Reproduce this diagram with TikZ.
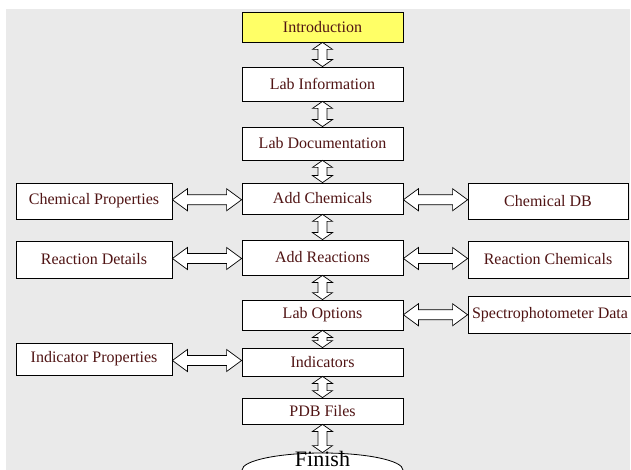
\documentclass[tikz,border=0pt]{standalone}
\usepackage{fontspec}
\setmainfont{Liberation Serif}
\usetikzlibrary{calc,shapes.geometric}
\definecolor{bggray}{RGB}{234,234,234}
\definecolor{introyellow}{RGB}{255,255,102}
\definecolor{txtred}{RGB}{80,20,20}
\newcommand\varr[2]{\path[arrowshape] let \p1=(#1.south), \p2=(#2.north) in
  (\x1,\y1) -- (\x1+10pt,\y1-7pt) -- (\x1+4.5pt,\y1-7pt) -- (\x1+4.5pt,\y2+7pt) -- (\x1+10pt,\y2+7pt)
  -- (\x1,\y2) -- (\x1-10pt,\y2+7pt) -- (\x1-4.5pt,\y2+7pt) -- (\x1-4.5pt,\y1-7pt) -- (\x1-10pt,\y1-7pt) -- cycle;}
\newcommand\harr[2]{\path[arrowshape] let \p1=(#1.east), \p2=(#2.west), \p3=($(#1.east)!0.5!(#2.west)$) in
  (\x1,\y3) -- (\x1+15pt,\y3+11pt) -- (\x1+15pt,\y3+5pt) -- (\x2-15pt,\y3+5pt) -- (\x2-15pt,\y3+11pt)
  -- (\x2,\y3) -- (\x2-15pt,\y3-11pt) -- (\x2-15pt,\y3-5pt) -- (\x1+15pt,\y3-5pt) -- (\x1+15pt,\y3-11pt) -- cycle;}
\begin{document}
\begin{tikzpicture}[x=1pt,y=-1pt,
  box/.style={draw=black,line width=0.8pt,fill=white,inner sep=0pt,font=\fontsize{16}{19}\selectfont,text=txtred},
  mainbox/.style={box,minimum width=161pt},
  sidebox/.style={box,minimum width=156pt},
  arrowshape/.style={draw=black,line width=0.7pt,fill=white,line join=miter}]
\useasboundingbox (0,0) rectangle (631,470);
\fill[bggray] (6,9) rectangle (629.5,470);
% main column
\node[mainbox,fill=introyellow,minimum height=30pt] (intro) at (322.5,27) {Introduction};
\node[mainbox,minimum height=34pt] (info) at (322.5,84) {Lab Information};
\node[mainbox,minimum height=33pt] (doc) at (322.5,143.5) {Lab Documentation};
\node[mainbox,minimum height=31pt] (chem) at (322.5,198.5) {Add Chemicals};
\node[mainbox,minimum height=35pt] (react) at (322.5,257.5) {Add Reactions};
\node[mainbox,minimum height=30pt] (opt) at (322.5,315) {Lab Options};
\node[mainbox,minimum height=28pt] (ind) at (322.5,362) {Indicators};
\node[mainbox,minimum height=26pt] (pdb) at (322.5,411) {PDB Files};
\node[ellipse,draw=black,line width=0.8pt,fill=white,inner sep=0pt,minimum width=161pt,minimum height=34pt] (finish) at (322.5,470) {};
\node[font=\fontsize{22}{26}\selectfont,inner sep=0pt] (finishtxt) at (322.5,459) {Finish};
% left column
\node[sidebox,minimum height=36pt] (chemprop) at (94,201) {Chemical Properties};
\node[sidebox,minimum height=37pt] (reactdet) at (94,259.5) {Reaction Details};
\node[sidebox,minimum height=32pt] (indprop) at (94,359) {Indicator Properties};
% right column
\node[box,minimum width=160pt,minimum height=36pt] (chemdb) at (548,201) {Chemical DB};
\node[box,minimum width=160pt,minimum height=37pt] (reactchem) at (548,259.5) {Reaction Chemicals};
\node[box,minimum width=164pt,minimum height=37pt] (spectro) at (550,314.5) {Spectrophotometer Data};
% vertical arrows
\varr{intro}{info}
\varr{info}{doc}
\varr{doc}{chem}
\varr{chem}{react}
\varr{react}{opt}
\varr{opt}{ind}
\varr{ind}{pdb}
\varr{pdb}{finish}
% horizontal arrows
\harr{chemprop}{chem}
\harr{chem}{chemdb}
\harr{reactdet}{react}
\harr{react}{reactchem}
\harr{opt}{spectro}
\harr{indprop}{ind}
\end{tikzpicture}
\end{document}
